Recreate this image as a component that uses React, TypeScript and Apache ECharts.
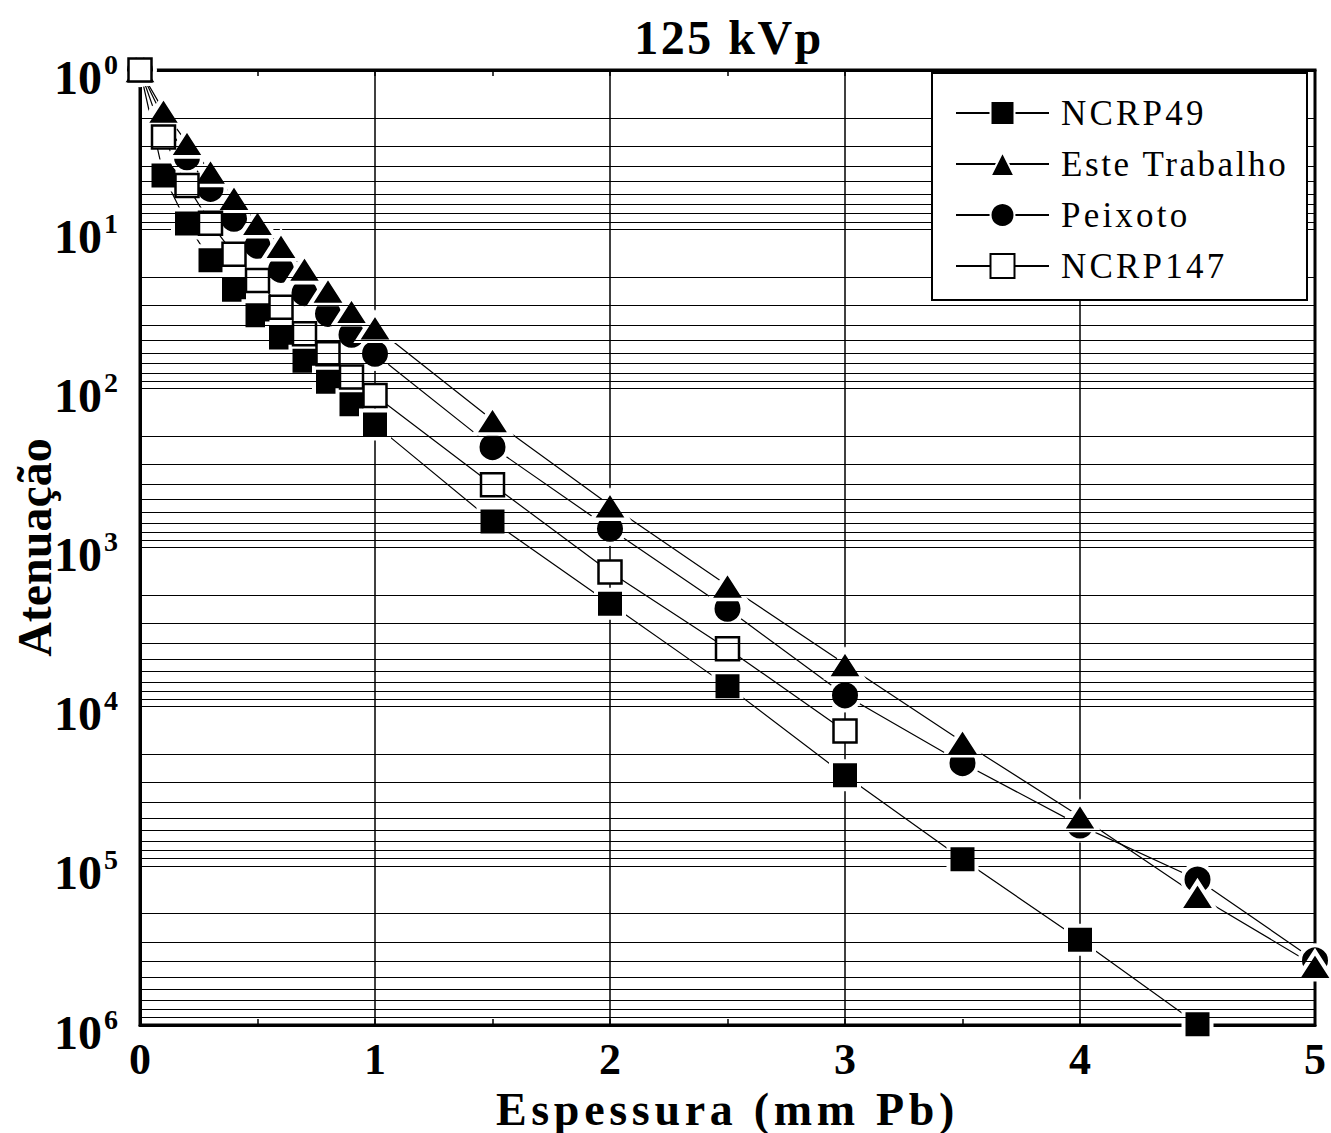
import React, { useEffect, useRef } from "react";
import * as echarts from "echarts";

const thickness = [0, 0.1, 0.2, 0.3, 0.4, 0.5, 0.6, 0.7, 0.8, 0.9, 1.0, 1.5, 2, 2.5, 3, 3.5, 4, 4.5, 5];
const ncrp49 = [1, 4.6, 9.2, 15.7, 24, 34.7, 48, 67, 91, 126, 169, 686, 2254, 7430, 27000, 91000, 291000, 988000];
const esteTrabalho = [1, 1.8, 2.87, 4.34, 6.35, 9.12, 12.7, 17.7, 24.3, 32.6, 41.3, 158, 542, 1730, 5400, 16600, 48900, 154000, 424000];
const peixoto = [1, 2.02, 3.53, 5.58, 8.6, 12.7, 18.0, 25.2, 34, 46, 60.6, 234, 762, 2425, 8490, 22600, 55700, 122000, 393000];
const ncrp147 = [1, 2.64, 5.31, 9.17, 14.4, 21, 30.9, 45.4, 60.6, 85, 111, 403, 1427, 4320, 14200];

const seriesNames = ["NCRP49", "Este Trabalho", "Peixoto", "NCRP147"];
const xTicks = [0, 1, 2, 3, 4, 5];
const yDecades = [1, 10, 100, 1000, 10000, 100000, 1000000];
const minorMultipliers = [2, 3, 4, 5, 6, 7, 8, 9];

const FONT = "'Liberation Serif', 'Times New Roman', serif";

const letterSpacing: Record<string, number> = {
  "125 kVp": 2.5,
  "Espessura (mm Pb)": 4.7,
  NCRP49: 3.2,
  "Este Trabalho": 2.6,
  Peixoto: 3.2,
  NCRP147: 3.2,
};

function pairs(vals: number[]) {
  return vals.map((v, i) => [thickness[i], v]);
}

export default function App() {
  const ref = useRef<HTMLDivElement>(null);

  useEffect(() => {
    if (!ref.current) return;
    const chart = echarts.init(ref.current, undefined, { renderer: "svg" });

    const minorLines: any[] = [];
    yDecades.slice(0, -1).forEach((d) => {
      minorMultipliers.forEach((m) => minorLines.push({ yAxis: d * m }));
    });

    const lineStyle = { color: "#000", width: 1.2 };

    const option: any = {
      animation: false,
      backgroundColor: "#fff",
      title: {
        text: "125 kVp",
        left: 724,
        top: 8,
        textAlign: "center",
        textStyle: { fontFamily: FONT, fontSize: 48, fontWeight: "bold", color: "#000" },
      },
      grid: {
        left: 140,
        right: 16,
        top: 70,
        bottom: 108,
        outerBoundsMode: "none",
        containLabel: false,
        show: true,
        borderColor: "#000",
        borderWidth: 3,
        backgroundColor: "transparent",
      },
      legend: {
        data: seriesNames,
        orient: "vertical",
        left: 955,
        top: 95,
        padding: 0,
        itemWidth: 93,
        itemHeight: 30,
        itemGap: 15,
        z: 20,
        textStyle: { fontFamily: FONT, fontSize: 35, color: "#000", lineHeight: 36, padding: [0, 0, 0, 7] },
      },
      graphic: [
        {
          type: "rect",
          z: 15,
          shape: { x: 932, y: 73, width: 375, height: 227 },
          style: { fill: "#fff", stroke: "#000", lineWidth: 2 },
          silent: true,
        },
      ],
      xAxis: [
        {
          type: "value",
          min: 0,
          max: 5,
          interval: 1,
          position: "bottom",
          axisLine: { show: true, lineStyle: { color: "#000", width: 3 } },
          axisTick: { show: true, inside: true, length: 6, lineStyle: { color: "#000", width: 1.5 } },
          minorTick: { show: true, splitNumber: 2, length: 6, lineStyle: { color: "#000", width: 1.5 } },
          splitLine: { show: true, lineStyle: { color: "#000", width: 1.5 } },
          axisLabel: {
            margin: 16,
            fontFamily: FONT,
            fontSize: 44,
            fontWeight: "bold",
            color: "#000",
            lineHeight: 36,
            formatter: (v: number) => (xTicks.includes(v) ? String(v) : ""),
          },
          name: "Espessura (mm Pb)",
          nameLocation: "middle",
          nameGap: 65,
          nameMoveOverlap: false,
          nameTextStyle: { fontFamily: FONT, fontSize: 46, fontWeight: "bold", color: "#000", lineHeight: 38 },
        },
        {
          type: "value",
          min: 0,
          max: 5,
          interval: 0.5,
          position: "top",
          axisLine: { show: true, lineStyle: { color: "#000", width: 3 } },
          axisTick: { show: true, inside: true, length: 6, lineStyle: { color: "#000", width: 1.5 } },
          splitLine: { show: false },
          axisLabel: { show: false },
        },
      ],
      yAxis: {
        type: "log",
        logBase: 10,
        min: 1,
        max: 1000000,
        inverse: true,
        axisLine: { show: true, lineStyle: { color: "#000", width: 3 } },
        axisTick: { show: false },
        splitLine: { show: true, lineStyle: { color: "#000", width: 1 } },
        axisLabel: {
          margin: 22,
          formatter: (v: number) => `{b|10}{s|${Math.round(Math.log10(v))}}`,
          rich: {
            b: { fontFamily: FONT, fontSize: 48, fontWeight: "bold", color: "#000", lineHeight: 48, padding: [14, 0, 0, 0] },
            s: { fontFamily: FONT, fontSize: 28, fontWeight: "bold", color: "#000", lineHeight: 28, verticalAlign: "top", padding: [4, 0, 0, 2] },
          },
        },
        name: "Atenuação",
        nameLocation: "middle",
        nameGap: 82,
        nameMoveOverlap: false,
        nameRotate: 90,
        nameTextStyle: { fontFamily: FONT, fontSize: 48, fontWeight: "bold", color: "#000" },
      },
      series: [
        {
          type: "line",
          name: "_grid",
          data: [],
          z: 1,
          silent: true,
          markLine: {
            silent: true,
            symbol: ["none", "none"],
            label: { show: false },
            lineStyle: { color: "#000", width: 1, type: "solid" },
            data: minorLines,
          },
        },
        {
          type: "line",
          name: seriesNames[0],
          data: pairs(ncrp49),
          z: 3,
          clip: false,
          symbol: "rect",
          symbolSize: 28,
          lineStyle,
          itemStyle: { color: "#000", borderColor: "#fff", borderWidth: 4 },
        },
        {
          type: "line",
          name: seriesNames[2],
          data: pairs(peixoto),
          z: 3,
          clip: false,
          symbol: "circle",
          symbolSize: 30,
          lineStyle,
          itemStyle: { color: "#000", borderColor: "#fff", borderWidth: 4 },
        },
        {
          type: "line",
          name: seriesNames[1],
          data: pairs(esteTrabalho),
          z: 3,
          clip: false,
          symbol: "triangle",
          symbolSize: [36, 28],
          lineStyle,
          itemStyle: { color: "#000", borderColor: "#fff", borderWidth: 4 },
        },
        {
          type: "line",
          name: seriesNames[3],
          data: pairs(ncrp147),
          z: 3,
          clip: false,
          symbol: "rect",
          symbolSize: 23,
          lineStyle,
          itemStyle: { color: "#fff", borderColor: "#000", borderWidth: 2.5 },
        },
      ],
    };

    chart.setOption(option);

    const applySpacing = () => {
      if (!ref.current) return;
      ref.current.querySelectorAll("text").forEach((t) => {
        const s = letterSpacing[(t.textContent || "").trim()];
        if (s) t.setAttribute("letter-spacing", String(s));
      });
    };
    applySpacing();
    chart.on("finished", applySpacing);

    return () => {
      chart.dispose();
    };
  }, []);

  return <div ref={ref} style={{ position: "fixed", left: 0, top: 0, width: 1331, height: 1133 }} />;
}
